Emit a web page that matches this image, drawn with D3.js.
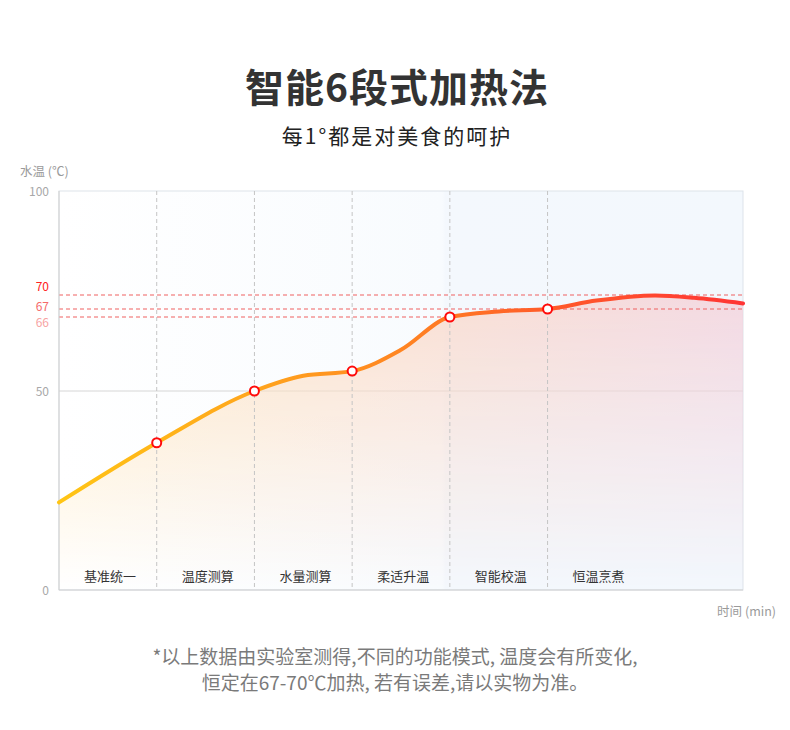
<!DOCTYPE html>
<html>
<head>
<meta charset="utf-8">
<script src="https://cdn.jsdelivr.net/npm/d3@7"></script>
<style>
  body { margin: 0; background: #fff; }
  text { font-family: 'Noto Sans CJK SC', 'Noto Sans', sans-serif; }
</style>
</head>
<body>
<div id="chart"></div>
<script>
const stages = ['基准统一', '温度测算', '水量测算', '柔适升温', '智能校温', '恒温烹煮']
const stageStarts = [0, 1, 2, 3, 4, 5]
const markerTimes = [1, 2, 3, 4, 5]

const curveTimes = [0, 1, 2, 2.5, 3, 3.5, 4, 4.5, 5, 5.5, 6.1, 6.5, 7]
const curveTemps = [22, 37, 50, 53.3, 54.3, 58.9, 66, 66.7, 67, 68.8, 69.9, 69.4, 68.2]

const yTicks = [0, 50, 66, 67, 70, 100]
const yTickLabels = ['0', '50', '66', '67', '70', '100']

const width = 790
const height = 730
const margin = { top: 191, left: 59, right: 47, bottom: 140 }

const svg = d3
  .select('#chart')
  .append('svg')
  .attr('width', width)
  .attr('height', height)

const x = d3.scaleLinear().domain([0, 7]).range([margin.left, width - margin.right])

// the picture stretches the 66-70 band, so the scale is piecewise
const y = d3
  .scaleLinear()
  .domain([0, 50, 66, 67, 70, 100])
  .range([590, 391, 317, 309, 295, margin.top])

const defs = svg.append('defs')

const bg = defs.append('linearGradient').attr('id', 'bg')
  .attr('gradientUnits', 'userSpaceOnUse')
  .attr('x1', x(0)).attr('x2', x(7)).attr('y1', 0).attr('y2', 0)
bg.append('stop').attr('offset', '0%').attr('stop-color', '#ffffff')
bg.append('stop').attr('offset', '56%').attr('stop-color', '#f8fbfe')
bg.append('stop').attr('offset', '56.5%').attr('stop-color', '#f4f8fd')
bg.append('stop').attr('offset', '100%').attr('stop-color', '#f3f8fd')

const areaFill = defs.append('linearGradient').attr('id', 'areaFill')
  .attr('gradientUnits', 'userSpaceOnUse')
  .attr('x1', x(0)).attr('x2', x(7)).attr('y1', 0).attr('y2', 0)
areaFill.append('stop').attr('offset', '0%').attr('stop-color', '#ffe7b8')
areaFill.append('stop').attr('offset', '45%').attr('stop-color', '#fbdcc8')
areaFill.append('stop').attr('offset', '100%').attr('stop-color', '#f3d3dd')

const fade = defs.append('linearGradient').attr('id', 'fade')
  .attr('gradientUnits', 'userSpaceOnUse')
  .attr('x1', 0).attr('x2', 0).attr('y1', y(70)).attr('y2', y(0))
fade.append('stop').attr('offset', '0%').attr('stop-color', '#fff').attr('stop-opacity', 0.85)
fade.append('stop').attr('offset', '100%').attr('stop-color', '#fff').attr('stop-opacity', 0)

defs.append('mask').attr('id', 'fadeMask')
  .append('rect')
  .attr('x', x(0)).attr('y', y(100))
  .attr('width', x(7) - x(0)).attr('height', y(0) - y(100))
  .attr('fill', 'url(#fade)')

const lineStroke = defs.append('linearGradient').attr('id', 'lineStroke')
  .attr('gradientUnits', 'userSpaceOnUse')
  .attr('x1', x(0)).attr('x2', x(7)).attr('y1', 0).attr('y2', 0)
lineStroke.append('stop').attr('offset', '0%').attr('stop-color', '#ffc515')
lineStroke.append('stop').attr('offset', '28%').attr('stop-color', '#ffa61d')
lineStroke.append('stop').attr('offset', '50%').attr('stop-color', '#ff8522')
lineStroke.append('stop').attr('offset', '72%').attr('stop-color', '#ff5a2a')
lineStroke.append('stop').attr('offset', '100%').attr('stop-color', '#ff3535')

// title
svg.append('text')
  .attr('x', width / 2 + 2).attr('y', 102)
  .attr('text-anchor', 'middle')
  .attr('font-size', 39).attr('font-weight', 'bold')
  .attr('letter-spacing', 1)
  .attr('fill', '#333')
  .text('智能6段式加热法')

svg.append('text')
  .attr('x', width / 2 + 2).attr('y', 144)
  .attr('text-anchor', 'middle')
  .attr('font-size', 21)
  .attr('letter-spacing', 2)
  .attr('fill', '#222')
  .text('每1°都是对美食的呵护')

// plot background
svg.append('rect')
  .attr('x', x(0)).attr('y', y(100))
  .attr('width', x(7) - x(0)).attr('height', y(0) - y(100))
  .attr('fill', 'url(#bg)')
  .attr('stroke', '#dde3ea')

// 50 gridline
svg.append('line')
  .attr('x1', x(0)).attr('x2', x(7))
  .attr('y1', y(50)).attr('y2', y(50))
  .attr('stroke', '#d6d6d6')

const points = curveTimes.map((t, i) => [t, curveTemps[i]])

const area = d3.area()
  .x(d => x(d[0]))
  .y0(y(0))
  .y1(d => y(d[1]))
  .curve(d3.curveMonotoneX)

const line = d3.line()
  .x(d => x(d[0]))
  .y(d => y(d[1]))
  .curve(d3.curveMonotoneX)

svg.append('path')
  .datum(points)
  .attr('d', area)
  .attr('fill', 'url(#areaFill)')
  .attr('mask', 'url(#fadeMask)')

// stage separators
svg.selectAll('.sep')
  .data(stageStarts.slice(1))
  .enter()
  .append('line')
  .attr('class', 'sep')
  .attr('x1', d => x(d)).attr('x2', d => x(d))
  .attr('y1', y(100)).attr('y2', y(0))
  .attr('stroke', '#c4c4c4')
  .attr('stroke-dasharray', '4,3')

// reference lines
const refLines = [
  { v: 70, end: 7 },
  { v: 67, end: 7 },
  { v: 66, end: 4 }
]
svg.selectAll('.ref')
  .data(refLines)
  .enter()
  .append('line')
  .attr('class', 'ref')
  .attr('x1', x(0)).attr('x2', d => x(d.end))
  .attr('y1', d => y(d.v)).attr('y2', d => y(d.v))
  .attr('stroke', '#ef6060')
  .attr('stroke-dasharray', '4,3')

// axes
svg.append('line')
  .attr('x1', x(0)).attr('x2', x(0))
  .attr('y1', y(100)).attr('y2', y(0))
  .attr('stroke', '#cfcfcf')
svg.append('line')
  .attr('x1', x(0)).attr('x2', x(7))
  .attr('y1', y(0)).attr('y2', y(0))
  .attr('stroke', '#cfcfcf')

svg.append('path')
  .datum(points)
  .attr('d', line)
  .attr('fill', 'none')
  .attr('stroke', 'url(#lineStroke)')
  .attr('stroke-width', 4)
  .attr('stroke-linecap', 'round')

const tempAt = t => curveTemps[curveTimes.indexOf(t)]

svg.selectAll('.marker')
  .data(markerTimes)
  .enter()
  .append('circle')
  .attr('class', 'marker')
  .attr('cx', d => x(d))
  .attr('cy', d => y(tempAt(d)))
  .attr('r', 4.5)
  .attr('fill', '#fff')
  .attr('stroke', '#ff0a0a')
  .attr('stroke-width', 2)

// y tick labels
const tickColor = { 70: '#ff2020', 67: '#f56a6a', 66: '#f7a3a3' }
const tickShift = { 70: -4, 67: 2, 66: 10 }
svg.selectAll('.ytick')
  .data(yTicks)
  .enter()
  .append('text')
  .attr('class', 'ytick')
  .attr('x', 49)
  .attr('y', d => y(d) + (tickShift[d] !== undefined ? tickShift[d] : 5))
  .attr('text-anchor', 'end')
  .attr('font-size', 12)
  .attr('fill', d => tickColor[d] || '#a8a8a8')
  .text((d, i) => yTickLabels[i])

svg.append('text')
  .attr('x', 20).attr('y', 176)
  .attr('font-size', 12.5)
  .attr('fill', '#9a9a9a')
  .text('水温 (℃)')

svg.append('text')
  .attr('x', 776).attr('y', 616)
  .attr('text-anchor', 'end')
  .attr('font-size', 12.5)
  .attr('fill', '#9a9a9a')
  .text('时间 (min)')

// stage labels
svg.selectAll('.stage')
  .data(stages)
  .enter()
  .append('text')
  .attr('class', 'stage')
  .attr('x', (d, i) => x(stageStarts[i]) + 51)
  .attr('y', 581)
  .attr('text-anchor', 'middle')
  .attr('font-size', 13)
  .attr('fill', '#333')
  .text(d => d)

// footnote
const notes = [
  '*以上数据由实验室测得,不同的功能模式, 温度会有所变化,',
  '恒定在67-70℃加热, 若有误差,请以实物为准。'
]
svg.selectAll('.note')
  .data(notes)
  .enter()
  .append('text')
  .attr('class', 'note')
  .attr('x', 395)
  .attr('y', (d, i) => 664 + i * 26)
  .attr('text-anchor', 'middle')
  .attr('font-size', 19)
  .attr('fill', '#7a7a7a')
  .text(d => d)
</script>
</body>
</html>
